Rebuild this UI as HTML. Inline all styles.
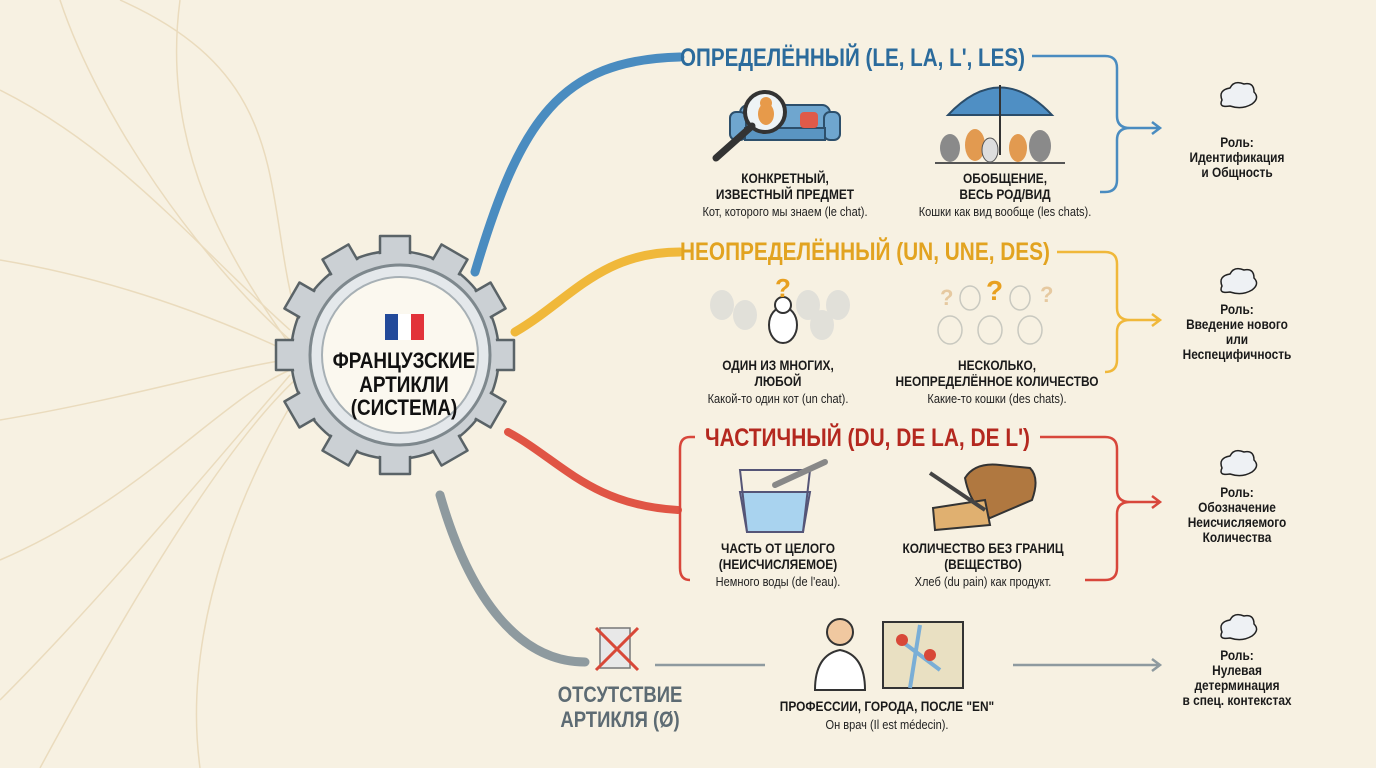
<!DOCTYPE html>
<html><head><meta charset="utf-8"><style>
html,body{margin:0;padding:0;background:#f7f1e2;}
svg{display:block}
text{font-family:"Liberation Sans","DejaVu Sans",sans-serif;}
.h{font-weight:bold;font-size:25px}
.b{font-weight:bold;font-size:14px;fill:#1a1a1a}
.s{font-size:13px;fill:#222}
.r{font-weight:bold;font-size:14px;fill:#1a1a1a}
</style></head><body>
<svg width="1376" height="768" viewBox="0 0 1376 768" xmlns="http://www.w3.org/2000/svg">
<rect width="1376" height="768" fill="#f7f1e2"/>
<g fill="none" stroke="#eadbbd" stroke-width="1.5">
<path d="M0 90 C120 150 200 250 290 330"/>
<path d="M60 0 C100 120 200 260 290 340"/>
<path d="M180 0 C160 150 230 260 290 345"/>
<path d="M0 260 C120 280 220 320 285 350"/>
<path d="M0 420 C120 400 220 370 285 360"/>
<path d="M0 560 C140 500 220 400 290 370"/>
<path d="M40 768 C120 620 220 450 295 380"/>
<path d="M200 768 C180 620 250 470 300 390"/>
<path d="M0 700 C100 600 200 480 290 375"/>
<path d="M120 0 C300 80 260 200 300 330"/>
</g>
<path d="M475 272 C520 120 560 60 680 57" fill="none" stroke="#4a8cc0" stroke-width="9" stroke-linecap="round"/>
<path d="M515 332 C570 300 600 252 680 252" fill="none" stroke="#f0b83a" stroke-width="9" stroke-linecap="round"/>
<path d="M508 432 C560 460 590 505 678 510" fill="none" stroke="#e05545" stroke-width="8" stroke-linecap="round"/>
<path d="M440 495 C470 600 520 662 585 662" fill="none" stroke="#8e9a9f" stroke-width="9" stroke-linecap="round"/>
<g transform="translate(395,355)">
<g fill="#cbd0d4" stroke="#5a6367" stroke-width="2.5" stroke-linejoin="round">
<circle r="104"/>
<rect x="-15" y="-119" width="30" height="22" transform="rotate(0)"/>
<rect x="-15" y="-119" width="30" height="22" transform="rotate(30)"/>
<rect x="-15" y="-119" width="30" height="22" transform="rotate(60)"/>
<rect x="-15" y="-119" width="30" height="22" transform="rotate(90)"/>
<rect x="-15" y="-119" width="30" height="22" transform="rotate(120)"/>
<rect x="-15" y="-119" width="30" height="22" transform="rotate(150)"/>
<rect x="-15" y="-119" width="30" height="22" transform="rotate(180)"/>
<rect x="-15" y="-119" width="30" height="22" transform="rotate(210)"/>
<rect x="-15" y="-119" width="30" height="22" transform="rotate(240)"/>
<rect x="-15" y="-119" width="30" height="22" transform="rotate(270)"/>
<rect x="-15" y="-119" width="30" height="22" transform="rotate(300)"/>
<rect x="-15" y="-119" width="30" height="22" transform="rotate(330)"/>
</g>
<circle r="102" fill="#cbd0d4"/>
<circle cx="5" r="90" fill="#e4e8eb" stroke="#7e888d" stroke-width="3"/>
<circle cx="5" r="78" fill="#fbf8ef" stroke="#a7b0b5" stroke-width="2"/>
<rect x="-10" y="-41" width="13" height="26" fill="#234a9a"/>
<rect x="3" y="-41" width="13" height="26" fill="#fff"/>
<rect x="16" y="-41" width="13" height="26" fill="#e2333a"/>
<g transform="translate(9,0) scale(0.86,1)" font-weight="bold" font-size="22" fill="#111" text-anchor="middle">
<text y="13">ФРАНЦУЗСКИЕ</text>
<text y="37">АРТИКЛИ</text>
<text y="60">(СИСТЕМА)</text>
</g>
</g>

<text x="680" y="66" class="h" fill="#2b6b9c" textLength="345" lengthAdjust="spacingAndGlyphs">ОПРЕДЕЛЁННЫЙ (LE, LA, L', LES)</text>
<text x="680" y="260" class="h" fill="#e2a320" textLength="370" lengthAdjust="spacingAndGlyphs">НЕОПРЕДЕЛЁННЫЙ (UN, UNE, DES)</text>
<text x="705" y="446" class="h" fill="#b4281f" textLength="325" lengthAdjust="spacingAndGlyphs">ЧАСТИЧНЫЙ (DU, DE LA, DE L')</text>

<g fill="none" stroke-width="2.5">
<path d="M1032 56 L1105 56 Q1117 56 1117 68 L1117 116 Q1117 128 1130 128 Q1117 128 1117 140 L1117 180 Q1117 192 1105 192 L1100 192" stroke="#4a8cc0"/>
<path d="M1130 128 L1160 128 M1152 122 L1160 128 L1152 134" stroke="#4a8cc0"/>
<path d="M1057 252 L1105 252 Q1117 252 1117 264 L1117 308 Q1117 320 1130 320 Q1117 320 1117 332 L1117 360 Q1117 372 1105 372" stroke="#f0b83a"/>
<path d="M1130 320 L1160 320 M1152 314 L1160 320 L1152 326" stroke="#f0b83a"/>
<path d="M1040 437 L1105 437 Q1117 437 1117 449 L1117 490 Q1117 502 1130 502 Q1117 502 1117 514 L1117 568 Q1117 580 1105 580 L1085 580" stroke="#d8473b"/>
<path d="M1130 502 L1160 502 M1152 496 L1160 502 L1152 508" stroke="#d8473b"/>
<path d="M695 437 L690 437 Q680 437 680 449 L680 568 Q680 580 690 580" stroke="#d8473b"/>
<path d="M655 665 L765 665" stroke="#8e9a9f"/>
<path d="M1013 665 L1160 665 M1152 659 L1160 665 L1152 671" stroke="#8e9a9f"/>
</g>

<g>
<rect x="740" y="105" width="90" height="30" rx="8" fill="#6fa6cf" stroke="#2d4f6b" stroke-width="2"/>
<rect x="730" y="112" width="16" height="28" rx="6" fill="#6fa6cf" stroke="#2d4f6b" stroke-width="2"/>
<rect x="824" y="112" width="16" height="28" rx="6" fill="#6fa6cf" stroke="#2d4f6b" stroke-width="2"/>
<rect x="745" y="128" width="80" height="12" fill="#5a95c2" stroke="#2d4f6b" stroke-width="2"/>
<rect x="800" y="112" width="18" height="16" rx="4" fill="#e05a4a"/>
<circle cx="765" cy="112" r="20" fill="#eef3f5" stroke="#333" stroke-width="4"/>
<path d="M752 126 L716 158" stroke="#333" stroke-width="7" stroke-linecap="round"/>
<ellipse cx="766" cy="114" rx="8" ry="11" fill="#e79a4a"/>
<circle cx="766" cy="103" r="6" fill="#e79a4a"/>
</g>
<g>
<path d="M948 115 Q1000 60 1052 115 Z" fill="#4f8fc4" stroke="#2b4d6a" stroke-width="2"/>
<path d="M1000 85 L1000 155" stroke="#333" stroke-width="2"/>
<g fill="#8a8a8a"><ellipse cx="950" cy="148" rx="10" ry="14"/><ellipse cx="975" cy="145" rx="10" ry="16" fill="#e29a50"/><ellipse cx="990" cy="150" rx="8" ry="12" fill="#ddd" stroke="#555"/><ellipse cx="1018" cy="148" rx="9" ry="14" fill="#e29a50"/><ellipse cx="1040" cy="146" rx="11" ry="16"/></g>
<path d="M935 163 L1065 163" stroke="#555" stroke-width="2"/>
</g>
<g fill="#dcdcd8" opacity="0.8">
<ellipse cx="722" cy="305" rx="12" ry="15"/><ellipse cx="745" cy="315" rx="12" ry="15"/><ellipse cx="808" cy="305" rx="12" ry="15"/><ellipse cx="838" cy="305" rx="12" ry="15"/><ellipse cx="822" cy="325" rx="12" ry="15"/>
</g>
<ellipse cx="783" cy="325" rx="14" ry="18" fill="#fff" stroke="#333" stroke-width="2"/>
<circle cx="783" cy="305" r="8" fill="#fff" stroke="#333" stroke-width="2"/>
<text x="775" y="297" font-weight="bold" font-size="26" fill="#e8a020">?</text>
<g fill="none" stroke="#c9c9c0" stroke-width="1.5">
<ellipse cx="950" cy="330" rx="12" ry="14"/><ellipse cx="990" cy="330" rx="12" ry="14"/><ellipse cx="1030" cy="330" rx="12" ry="14"/><ellipse cx="970" cy="298" rx="10" ry="12"/><ellipse cx="1020" cy="298" rx="10" ry="12"/>
</g>
<text x="986" y="300" font-weight="bold" font-size="28" fill="#e8a020">?</text>
<text x="940" y="305" font-weight="bold" font-size="22" fill="#e6c9a0">?</text>
<text x="1040" y="302" font-weight="bold" font-size="22" fill="#e6c9a0">?</text>
<path d="M740 492 L810 492 L803 532 L747 532 Z" fill="#a9d3ef" stroke="#557" stroke-width="2"/>
<path d="M740 470 L810 470 L803 532 L747 532 Z" fill="none" stroke="#557" stroke-width="2"/>
<path d="M775 485 L825 462" stroke="#888" stroke-width="6" stroke-linecap="round"/>
<path d="M965 478 Q975 462 1000 465 L1030 468 Q1040 478 1032 500 L990 518 Q970 505 965 478Z" fill="#b07840" stroke="#333" stroke-width="2"/>
<path d="M933 508 L985 500 L990 525 L935 530 Z" fill="#e0b070" stroke="#333" stroke-width="2"/>
<path d="M930 473 L985 510" stroke="#444" stroke-width="4"/>
<circle cx="840" cy="632" r="13" fill="#f0c8a0" stroke="#333" stroke-width="2"/>
<path d="M815 690 Q815 655 840 650 Q865 655 865 690 Z" fill="#fff" stroke="#333" stroke-width="2"/>
<path d="M883 622 L963 622 L963 688 L883 688 Z" fill="#e9e0c2" stroke="#333" stroke-width="2"/>
<path d="M900 640 L940 670 M920 625 L910 688" stroke="#7aaed6" stroke-width="4"/>
<circle cx="902" cy="640" r="6" fill="#d84838"/><circle cx="930" cy="655" r="6" fill="#d84838"/>
<rect x="600" y="628" width="30" height="40" fill="#e8e8e8" stroke="#777" stroke-width="1.5"/>
<path d="M596 628 L638 670 M638 628 L596 670" stroke="#d84838" stroke-width="3"/>

<g text-anchor="middle">
<g transform="translate(785,0) scale(0.85,1)">
<text x="0" y="183" class="b">КОНКРЕТНЫЙ,</text>
<text x="0" y="199" class="b">ИЗВЕСТНЫЙ ПРЕДМЕТ</text>
<text x="0" y="216" class="s">Кот, которого мы знаем (le chat).</text></g>
<g transform="translate(1005,0) scale(0.85,1)">
<text x="0" y="183" class="b">ОБОБЩЕНИЕ,</text>
<text x="0" y="199" class="b">ВЕСЬ РОД/ВИД</text>
<text x="0" y="216" class="s">Кошки как вид вообще (les chats).</text></g>
<g transform="translate(778,0) scale(0.85,1)">
<text x="0" y="370" class="b">ОДИН ИЗ МНОГИХ,</text>
<text x="0" y="386" class="b">ЛЮБОЙ</text>
<text x="0" y="403" class="s">Какой-то один кот (un chat).</text></g>
<g transform="translate(997,0) scale(0.85,1)">
<text x="0" y="370" class="b">НЕСКОЛЬКО,</text>
<text x="0" y="386" class="b">НЕОПРЕДЕЛЁННОЕ КОЛИЧЕСТВО</text>
<text x="0" y="403" class="s">Какие-то кошки (des chats).</text></g>
<g transform="translate(778,0) scale(0.85,1)">
<text x="0" y="553" class="b">ЧАСТЬ ОТ ЦЕЛОГО</text>
<text x="0" y="569" class="b">(НЕИСЧИСЛЯЕМОЕ)</text>
<text x="0" y="586" class="s">Немного воды (de l'eau).</text></g>
<g transform="translate(983,0) scale(0.85,1)">
<text x="0" y="553" class="b">КОЛИЧЕСТВО БЕЗ ГРАНИЦ</text>
<text x="0" y="569" class="b">(ВЕЩЕСТВО)</text>
<text x="0" y="586" class="s">Хлеб (du pain) как продукт.</text></g>
<g transform="translate(887,0) scale(0.85,1)">
<text x="0" y="711" class="b">ПРОФЕССИИ, ГОРОДА, ПОСЛЕ "EN"</text>
<text x="0" y="729" class="s">Он врач (Il est médecin).</text></g>
<g transform="translate(620,0) scale(0.84,1)">
<text x="0" y="702" font-weight="bold" font-size="22" fill="#5d6b73">ОТСУТСТВИЕ</text>
<text x="0" y="727" font-weight="bold" font-size="22" fill="#5d6b73">АРТИКЛЯ (Ø)</text></g>
<g transform="translate(1237,0) scale(0.85,1)">
<text x="0" y="147" class="r">Роль:</text>
<text x="0" y="162" class="r">Идентификация</text>
<text x="0" y="177" class="r">и Общность</text>
<text x="0" y="314" class="r">Роль:</text>
<text x="0" y="329" class="r">Введение нового</text>
<text x="0" y="344" class="r">или</text>
<text x="0" y="359" class="r">Неспецифичность</text>
<text x="0" y="497" class="r">Роль:</text>
<text x="0" y="512" class="r">Обозначение</text>
<text x="0" y="527" class="r">Неисчисляемого</text>
<text x="0" y="542" class="r">Количества</text>
<text x="0" y="660" class="r">Роль:</text>
<text x="0" y="675" class="r">Нулевая</text>
<text x="0" y="690" class="r">детерминация</text>
<text x="0" y="705" class="r">в спец. контекстах</text></g>
</g>
<g fill="#eef1f4" stroke="#222" stroke-width="1.5">
<path d="M1222 100 q-4 -10 8 -12 q4 -8 14 -4 q10 -2 10 8 q6 6 -2 12 q-10 6 -22 2 q-12 2 -8 -6z"/>
<path d="M1222 286 q-4 -10 8 -12 q4 -8 14 -4 q10 -2 10 8 q6 6 -2 12 q-10 6 -22 2 q-12 2 -8 -6z"/>
<path d="M1222 468 q-4 -10 8 -12 q4 -8 14 -4 q10 -2 10 8 q6 6 -2 12 q-10 6 -22 2 q-12 2 -8 -6z"/>
<path d="M1222 632 q-4 -10 8 -12 q4 -8 14 -4 q10 -2 10 8 q6 6 -2 12 q-10 6 -22 2 q-12 2 -8 -6z"/>
</g>
</svg>
</body></html>
